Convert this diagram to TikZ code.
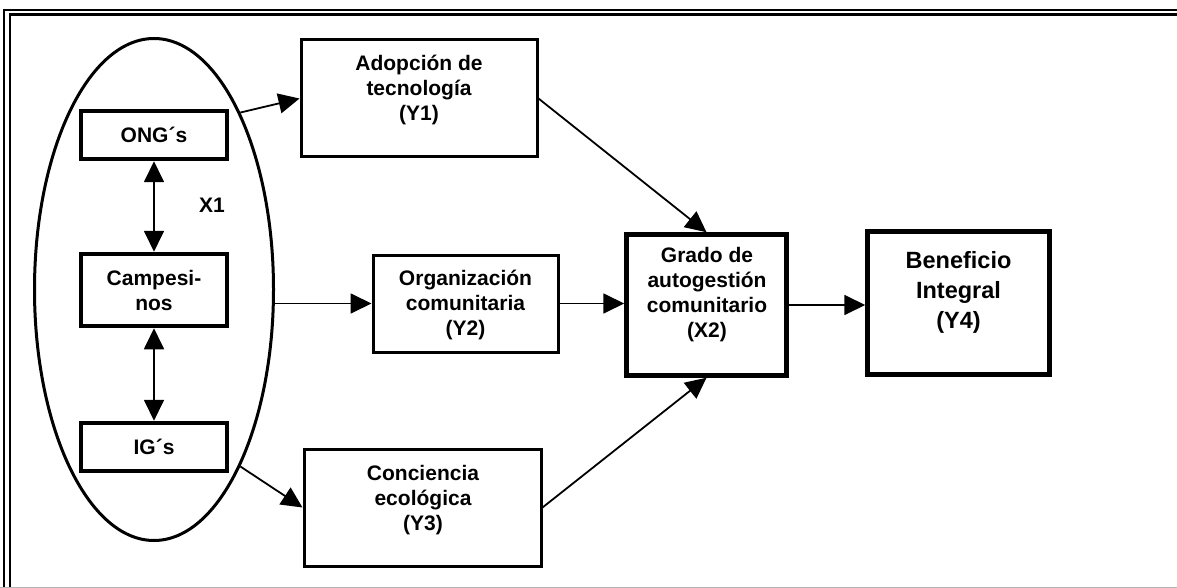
\documentclass[tikz,border=0pt]{standalone}
\usepackage{fontspec}
\setmainfont{Liberation Sans}
\usetikzlibrary{arrows.meta}
\usetikzlibrary{shapes.geometric}

\tikzset{
  thinbox/.style={draw, line width=3pt, inner sep=0pt},
  thickbox/.style={draw, line width=4.5pt, inner sep=0pt},
  lbl/.style={align=center, inner sep=0pt, font=\bfseries\fontsize{21}{25}\selectfont},
  biglbl/.style={align=center, inner sep=0pt, font=\bfseries\fontsize{23.5}{30}\selectfont},
  conn/.style={line width=1.8pt, -{Triangle[length=21pt,width=20pt]}},
  dconn/.style={line width=1.8pt, {Triangle[length=21pt,width=20pt]}-{Triangle[length=21pt,width=20pt]}}
}

\begin{document}
\begin{tikzpicture}[x=1pt,y=1pt,yscale=-1,xscale=1]
\useasboundingbox (0,0) rectangle (1177,588);

%Shape: Frame
\draw[line width=2pt] (4.3,588) -- (4.3,10) -- (1177,10);
\draw[line width=2.3pt] (10,588) -- (10,14.5) -- (1177,14.5);
\draw[gray!60, line width=1pt] (0,587.5) -- (1177,587.5);

%Shape: Ellipse
\node[draw, ellipse, line width=3pt, minimum width=239pt, minimum height=502pt, inner sep=0pt] (grp) at (154,289.5) {};

%Shape: Rectangles inside the ellipse
\node[thickbox, lbl, minimum width=146pt, minimum height=48pt] (ong) at (154,135) {ONG´s};
\node[thickbox, lbl, minimum width=146pt, minimum height=72pt] (camp) at (154,290) {Campesi-\\nos};
\node[thickbox, lbl, minimum width=146pt, minimum height=48pt] (ig) at (154,447) {IG´s};
% Text Node
\node[lbl] (xone) at (212,205) {X1};

%Shape: Rectangles
\node[thinbox, minimum width=236pt, minimum height=117pt] (yone) at (419,98.5) {};
\node[thinbox, minimum width=185pt, minimum height=97pt] (ytwo) at (465.5,303.5) {};
\node[thinbox, minimum width=237pt, minimum height=117pt] (ythree) at (422.5,507.5) {};
\node[thickbox, minimum width=160pt, minimum height=141pt] (xtwo) at (706.5,305) {};
\node[thickbox, minimum width=182pt, minimum height=143pt] (yfour) at (958.5,303) {};

% Text Node
\node[lbl] (yonet) at (419,90) {Adopción de\\tecnología\\(Y1)};
% Text Node
\node[lbl] (ytwot) at (465.5,305) {Organización\\comunitaria\\(Y2)};
% Text Node
\node[lbl] (ythreet) at (423,500) {Conciencia\\ecológica\\(Y3)};
% Text Node
\node[lbl] (xtwot) at (707,295) {Grado de\\autogestión\\comunitario\\(X2)};
% Text Node
\node[biglbl] (yfourt) at (958.5,292) {Beneficio\\Integral\\(Y4)};

%Shape: Arrows
\draw[dconn] (ong.south) -- (camp.north);
\draw[dconn] (camp.south) -- (ig.north);
\draw[conn] (grp.64) -- (yone.west);
\draw[conn] (grp.east |- ytwo.west) -- (ytwo.west);
\draw[conn] (grp.-64) -- (ythree.west);
\draw[conn] (yone.east) -- (xtwo.north);
\draw[conn] (ytwo.east) -- (ytwo.east -| xtwo.west);
\draw[conn] (ythree.east) -- (xtwo.south);
\draw[conn] (xtwo.east) -- (xtwo.east -| yfour.west);

\end{tikzpicture}
\end{document}
